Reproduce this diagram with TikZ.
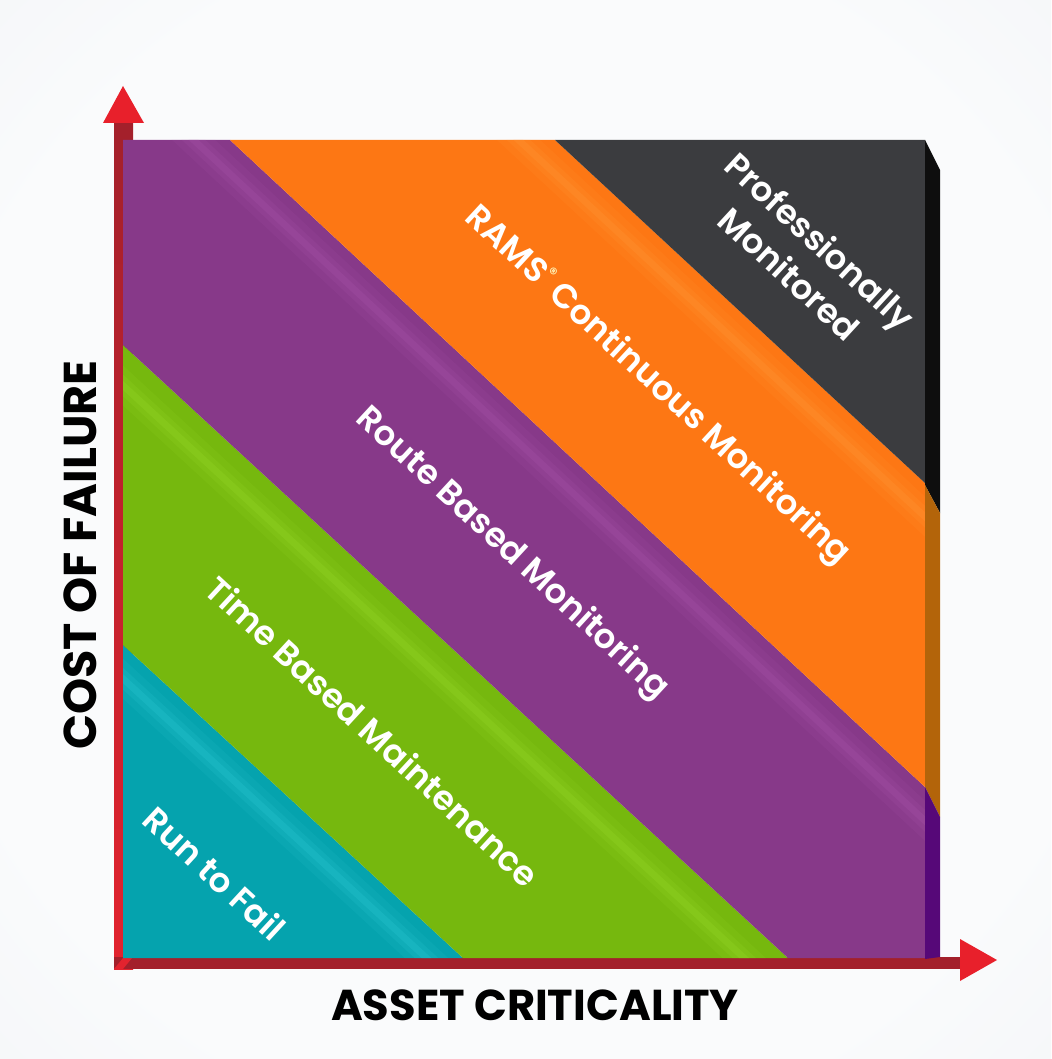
\documentclass[tikz,border=0pt]{standalone}
\usepackage{fontspec}
\setmainfont{Poppins}
\newfontfamily\popsemi{Poppins}[UprightFont={* SemiBold}]
\usetikzlibrary{calc}
\definecolor{bgout}{HTML}{E2E6EB}
\definecolor{bgin}{HTML}{FAFBFC}
\definecolor{cteal}{HTML}{05A3AE}
\definecolor{cgreen}{HTML}{76B80E}
\definecolor{cpurple}{HTML}{873989}
\definecolor{corange}{HTML}{FD7714}
\definecolor{cdark}{HTML}{3B3C3F}
\definecolor{hteal}{HTML}{2AC6D0}
\definecolor{hgreen}{HTML}{96D626}
\definecolor{hpurple}{HTML}{A452A7}
\definecolor{horange}{HTML}{FF9535}
\definecolor{sblack}{HTML}{0E0E0E}
\definecolor{sorange}{HTML}{B3640A}
\definecolor{spurple}{HTML}{560878}
\definecolor{rdark}{HTML}{A3202B}
\definecolor{rbright}{HTML}{E2232E}
\definecolor{rhead}{HTML}{E8202B}
\pgfdeclareradialshading{bgshade}{\pgfpoint{0bp}{0bp}}{color(0bp)=(bgin); color(28bp)=(bgin); color(72bp)=(bgout)}
\tikzset{
  bandlabel/.style={text=white, font=\popsemi\fontsize{25.5}{33.5}\selectfont, rotate=-42.7, align=center, inner sep=0pt},
  axislabel/.style={text=black, font=\bfseries\fontsize{32.4}{38}\selectfont, inner sep=0pt},
  glowa/.style={line width=22pt, opacity=0.14},
  glowb/.style={line width=12pt, opacity=0.2},
  glowc/.style={line width=5pt, opacity=0.3}
}
\newcommand{\glow}[4]{% color, start, end, shift
  \draw[glowa, #1, shift={#4}] ($#2!-0.3!#3$) -- ($#2!1.3!#3$);
  \draw[glowb, #1, shift={#4}] ($#2!-0.3!#3$) -- ($#2!1.3!#3$);
  \draw[glowc, #1, shift={#4}] ($#2!-0.3!#3$) -- ($#2!1.3!#3$);
}
\begin{document}
\begin{tikzpicture}[x=0.75pt,y=-0.75pt]
\useasboundingbox (0,0) rectangle (1051,1059);
\shade[shading=bgshade] (0,0) rectangle (1051,1059);

% axes
\shade[top color=rdark, bottom color=rbright] (114,123) rectangle (133,969);
\fill[rdark] (114,957) rectangle (962,969);
\fill[rhead] (123,86) -- (144,123) -- (103,123) -- cycle;
\fill[rhead] (997,960) -- (960,981) -- (960,939) -- cycle;
\fill[rbright] (114,969) -- (123,958) -- (132,958) -- (123,969) -- cycle;

% bands
\fill[cteal] (123,645) -- (463,958) -- (123,958) -- cycle;
\fill[cgreen] (123,345) -- (788,958) -- (463,958) -- (123,645) -- cycle;
\fill[cpurple] (123,140) -- (230,140) -- (925,787) -- (925,958) -- (788,958) -- (123,345) -- cycle;
\fill[corange] (230,140) -- (555,140) -- (925,483) -- (925,787) -- cycle;
\fill[cdark] (555,140) -- (925,140) -- (925,483) -- cycle;

% glossy highlights
\begin{scope}
\clip (123,645) -- (463,958) -- (123,958) -- cycle;
\glow{hteal}{(123,645)}{(463,958)}{(-17,18)}
\end{scope}
\begin{scope}
\clip (123,345) -- (788,958) -- (463,958) -- (123,645) -- cycle;
\glow{hgreen}{(123,345)}{(788,958)}{(-20,22)}
\end{scope}
\begin{scope}
\clip (123,140) -- (230,140) -- (925,787) -- (925,958) -- (788,958) -- (123,345) -- cycle;
\glow{hpurple}{(230,140)}{(925,787)}{(-17,18)}
\end{scope}
\begin{scope}
\clip (230,140) -- (555,140) -- (925,483) -- (925,787) -- cycle;
\glow{horange}{(555,140)}{(925,483)}{(-17,18)}
\end{scope}

% side face
\fill[sblack] (925,140) -- (940,170) -- (940,513) -- (925,485) -- cycle;
\fill[sorange] (925,485) -- (940,513) -- (940,817) -- (925,787) -- cycle;
\fill[spurple] (925,787) -- (940,817) -- (940,957) -- (925,959) -- cycle;

% labels
\node[bandlabel] (pm) at (805,257) {Professionally\\Monitored};
\node[bandlabel] (rams) at (657,386) {RAMS{\raisebox{0.45em}{\fontsize{12}{12}\selectfont\color[HTML]{FFF4B8}®}} Continuous Monitoring};
\node[bandlabel] (route) at (512,554) {Route Based Monitoring};
\node[bandlabel] (time) at (373,731) {Time Based Maintenance};
\node[bandlabel] (run) at (215,873) {Run to Fail};

\node[axislabel, font=\bfseries\fontsize{34.5}{40}\selectfont, rotate=90] (yl) at (80,555) {COST OF FAILURE};
\node[axislabel] (xl) at (535,1005) {ASSET CRITICALITY};
\end{tikzpicture}
\end{document}
